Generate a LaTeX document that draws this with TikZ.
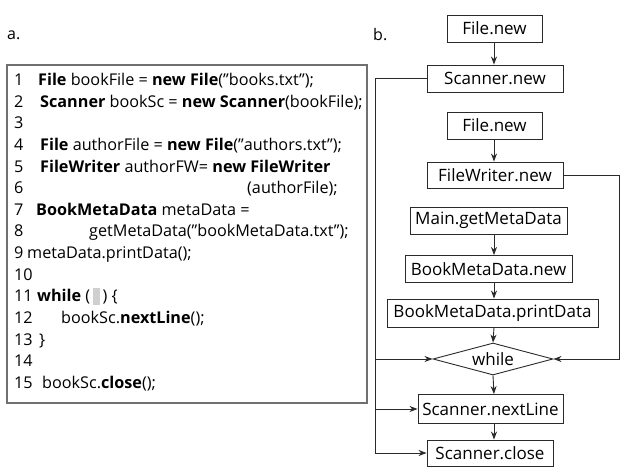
\documentclass[tikz,border=0pt]{standalone}
\usepackage{fontspec}
\setmainfont{Open Sans}
\usetikzlibrary{arrows.meta,shapes.geometric}
\definecolor{ln}{HTML}{2A2A2A}
\definecolor{codeborder}{HTML}{707070}
\definecolor{hl}{HTML}{CFCFCF}
\begin{document}
\begin{tikzpicture}[x=1pt,y=-1pt,
  box/.style={draw=ln, line width=0.9pt, minimum height=27pt, inner sep=0pt, font=\fontsize{17}{20}\selectfont},
  arr/.style={draw=ln, line width=0.9pt, -{Stealth[length=8pt,width=6pt,inset=2.5pt]}},
  codetxt/.style={anchor=base west, inner sep=0pt, font=\fontsize{16.2}{19}\selectfont},
  lbl/.style={anchor=base west, inner sep=0pt, font=\fontsize{16}{19}\selectfont},
]
\useasboundingbox (0,0) rectangle (624,468);

% labels
\node[lbl] (la) at (7,40) {a.};
\node[lbl] (lb) at (373,41) {b.};

% code box
\node[draw=codeborder, line width=1.2pt, minimum width=360pt, minimum height=338pt, inner sep=0pt] (codebox) at (187,234) {};

% code lines
\def\bl#1{85.5+(#1-1)*21.64}
\node[codetxt] (n1) at (14,{\bl{1}}) {1};
\node[codetxt] (c1) at (38,{\bl{1}}) {\textbf{File} bookFile = \textbf{new File}(”books.txt”);};
\node[codetxt] (n2) at (14,{\bl{2}}) {2};
\node[codetxt] (c2) at (40,{\bl{2}}) {\textbf{Scanner} bookSc = \textbf{new Scanner}(bookFile);};
\node[codetxt] (n3) at (14,{\bl{3}}) {3};
\node[codetxt] (n4) at (14,{\bl{4}}) {4};
\node[codetxt] (c4) at (40,{\bl{4}}) {\textbf{File} authorFile = \textbf{new File}(”authors.txt”);};
\node[codetxt] (n5) at (14,{\bl{5}}) {5};
\node[codetxt] (c5) at (40,{\bl{5}}) {\textbf{FileWriter} authorFW= \textbf{new FileWriter}};
\node[codetxt] (n6) at (14,{\bl{6}}) {6};
\node[codetxt] (c6) at (247,{\bl{6}}) {(authorFile);};
\node[codetxt] (n7) at (14,{\bl{7}}) {7};
\node[codetxt] (c7) at (36,{\bl{7}}) {\textbf{BookMetaData} metaData =};
\node[codetxt] (n8) at (14,{\bl{8}}) {8};
\node[codetxt] (c8) at (89,{\bl{8}}) {getMetaData(”bookMetaData.txt”);};
\node[codetxt] (n9) at (14,{\bl{9}}) {9};
\node[codetxt] (c9) at (27,{\bl{9}}) {metaData.printData();};
\node[codetxt] (n10) at (14,{\bl{10}}) {10};
\node[codetxt] (n11) at (14,{\bl{11}}) {11};
\node[codetxt] (c11) at (37,{\bl{11}}) {\textbf{while} (\,\textcolor{hl}{\rule[-3pt]{7pt}{17pt}}\,) \{};
\node[codetxt] (n12) at (14,{\bl{12}}) {12};
\node[codetxt] (c12) at (61,{\bl{12}}) {bookSc.\textbf{nextLine}();};
\node[codetxt] (n13) at (14,{\bl{13}}) {13};
\node[codetxt] (c13) at (39,{\bl{13}}) {\}};
\node[codetxt] (n14) at (14,{\bl{14}}) {14};
\node[codetxt] (n15) at (14,{\bl{15}}) {15};
\node[codetxt] (c15) at (42,{\bl{15}}) {bookSc.\textbf{close}();};

% flowchart
\node[box, minimum width=95pt] (f1) at (494.5,28.5) {File.new};
\node[box, minimum width=136pt] (sn) at (495,78.5) {Scanner.new};
\node[box, minimum width=95pt] (f2) at (494.5,125.5) {File.new};
\node[box, minimum width=136pt, minimum height=26pt] (fw) at (495,175) {FileWriter.new};
\node[box, minimum width=157pt] (mg) at (488.5,220.5) {Main.getMetaData};
\node[box, minimum width=167pt] (bn) at (488.5,269) {BookMetaData.new};
\node[box, minimum width=211pt, minimum height=28pt] (pd) at (492.5,313) {BookMetaData.printData};
\node[box, diamond, aspect=3.75, minimum width=120pt, minimum height=32pt] (wh) at (493,359) {while};
\node[box, minimum width=145pt, minimum height=29pt] (nl) at (490.5,409) {Scanner.nextLine};
\node[box, minimum width=126pt, minimum height=26pt] (sc) at (490,453) {Scanner.close};

\coordinate (ax) at (494,0);
\coordinate (lx) at (375,0);
\coordinate (rx) at (619,0);

\draw[arr] (f1.south -| ax) -- (sn.north -| ax);
\draw[arr] (f2.south -| ax) -- (fw.north -| ax);
\draw[arr] (mg.south -| ax) -- (bn.north -| ax);
\draw[arr] (bn.south -| ax) -- (pd.north -| ax);
\draw[arr] (pd.south -| ax) -- (wh.north);
\draw[arr] (wh.south) -- (nl.north -| ax);
\draw[arr] (nl.south -| ax) -- (sc.north -| ax);

\draw[arr] (sn.west) -| (lx |- sc.west) -- (sc.west);
\draw[arr] (lx |- wh.west) -- (wh.west);
\draw[arr] (lx |- nl.west) -- (nl.west);
\draw[arr] (fw.east) -| (rx |- wh.east) -- (wh.east);
\end{tikzpicture}
\end{document}
